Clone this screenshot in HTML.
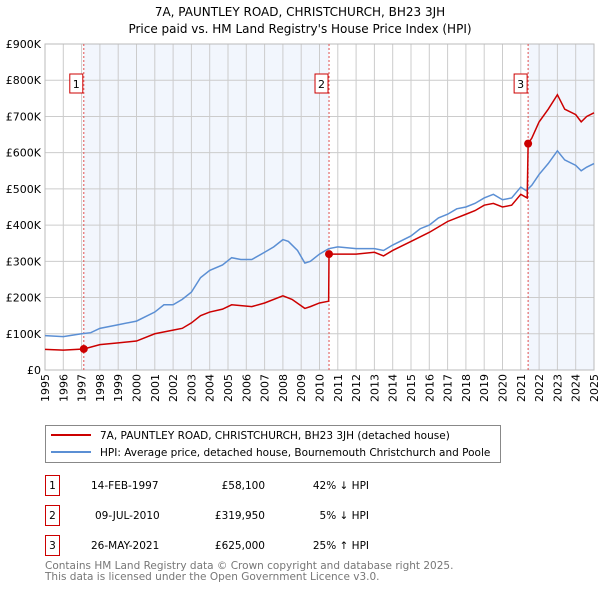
<!DOCTYPE html>
<html><head><meta charset="utf-8"><style>
body{margin:0;background:#fff;font-family:"Liberation Sans","DejaVu Sans",sans-serif;}
svg text{font-family:"DejaVu Sans","Liberation Sans",sans-serif;}
</style></head><body>
<svg id="c" width="600" height="590" viewBox="0 0 600 590" xmlns="http://www.w3.org/2000/svg">
<text x="300" y="16" text-anchor="middle" font-size="12">7A, PAUNTLEY ROAD, CHRISTCHURCH, BH23 3JH</text>
<text x="300" y="33" text-anchor="middle" font-size="12">Price paid vs. HM Land Registry's House Price Index (HPI)</text>
<g id="plot"></g>
<g>
<rect x="45.5" y="425.5" width="455" height="37" fill="#fff" stroke="#888"/>
<line x1="51" y1="435" x2="91" y2="435" stroke="#cc0000" stroke-width="2"/>
<text x="100" y="439" font-size="10.5">7A, PAUNTLEY ROAD, CHRISTCHURCH, BH23 3JH (detached house)</text>
<line x1="51" y1="452" x2="91" y2="452" stroke="#5b8fd4" stroke-width="2"/>
<text x="100" y="456" font-size="10.5">HPI: Average price, detached house, Bournemouth Christchurch and Poole</text>
</g>
<g font-size="10.5">
<rect x="45.5" y="475.5" width="14" height="20" fill="none" stroke="#cc0000"/><text x="52.5" y="489" text-anchor="middle">1</text>
<text x="91" y="489">14-FEB-1997</text><text x="265" y="489" text-anchor="end">£58,100</text><text x="369" y="489" text-anchor="end">42% ↓ HPI</text>
<rect x="45.5" y="505.5" width="14" height="20" fill="none" stroke="#cc0000"/><text x="52.5" y="519" text-anchor="middle">2</text>
<text x="95" y="519">09-JUL-2010</text><text x="265" y="519" text-anchor="end">£319,950</text><text x="369" y="519" text-anchor="end">5% ↓ HPI</text>
<rect x="45.5" y="535.5" width="14" height="20" fill="none" stroke="#cc0000"/><text x="52.5" y="549" text-anchor="middle">3</text>
<text x="91" y="549">26-MAY-2021</text><text x="265" y="549" text-anchor="end">£625,000</text><text x="369" y="549" text-anchor="end">25% ↑ HPI</text>
</g>
<text x="45" y="569" font-size="10.5" fill="#777">Contains HM Land Registry data © Crown copyright and database right 2025.</text>
<text x="45" y="580" font-size="10.5" fill="#777">This data is licensed under the Open Government Licence v3.0.</text>
</svg>
<script>
const yTickValues=[0,100,200,300,400,500,600,700,800,900];
const yTickLabels=["£0","£100K","£200K","£300K","£400K","£500K","£600K","£700K","£800K","£900K"];
const xYears=[1995,1996,1997,1998,1999,2000,2001,2002,2003,2004,2005,2006,2007,2008,2009,2010,2011,2012,2013,2014,2015,2016,2017,2018,2019,2020,2021,2022,2023,2024,2025];
const hpiT=[1995,1996,1997,1997.5,1998,1999,2000,2001,2001.5,2002,2002.5,2003,2003.5,2004,2004.7,2005.2,2005.7,2006.3,2007,2007.5,2008,2008.3,2008.8,2009.2,2009.5,2010,2010.5,2011,2012,2013,2013.5,2014,2015,2015.5,2016,2016.5,2017,2017.5,2018,2018.5,2019,2019.5,2020,2020.5,2021,2021.3,2021.6,2022,2022.5,2023,2023.4,2024,2024.3,2024.6,2025];
const hpiV=[95,92,100,103,115,125,135,160,180,180,195,215,255,275,290,310,305,305,325,340,360,355,330,295,300,320,335,340,335,335,330,345,370,390,400,420,430,445,450,460,475,485,470,475,505,495,510,540,570,605,580,565,550,560,570];
const ppT=[1995,1996,1997.12,1998,1999,2000,2001,2002,2002.5,2003,2003.5,2004,2004.7,2005.2,2006.3,2007,2008,2008.5,2009.2,2009.5,2010,2010.5,2010.52,2011,2012,2013,2013.5,2014,2015,2016,2017,2018,2018.5,2019,2019.5,2020,2020.5,2021,2021.35,2021.4,2021.6,2022,2022.5,2023,2023.4,2024,2024.3,2024.6,2025];
const ppV=[57,55,58.1,70,75,80,100,110,115,130,150,160,168,180,175,185,205,195,170,175,185,190,319.95,320,320,325,315,330,355,380,410,430,440,455,460,450,455,485,475,625,640,685,720,760,720,705,685,700,710];
const saleT=[1997.12,2010.52,2021.4];
const saleV=[58.1,319.95,625];
const saleLabels=["1","2","3"];
const shadeRanges=[[1997.12,2010.52],[2021.4,2025]];
const X0=45,X1=594,Y0=370,Y1=44;
const xs=t=>X0+(t-1995)/30*(X1-X0);
const ys=v=>Y0-v/900*(Y0-Y1);
const NS="http://www.w3.org/2000/svg";
const g=document.getElementById('plot');
function mk(tag,attrs,parent){const e=document.createElementNS(NS,tag);for(const k in attrs)e.setAttribute(k,attrs[k]);(parent||g).appendChild(e);return e;}
shadeRanges.forEach(r=>{const e=mk('rect',{x:xs(r[0]),y:Y1,width:xs(r[1])-xs(r[0]),height:Y0-Y1,fill:'#f2f6fd'});

});
yTickValues.forEach((v,i)=>{const l=mk('line',{x1:X0,x2:X1,y1:ys(v),y2:ys(v),stroke:'#ccc'});


const t=mk('text',{x:X0-4,y:ys(v)+4,'text-anchor':'end','font-size':'11'});t.textContent=yTickLabels[i];

});
xYears.forEach(y=>{const l=mk('line',{x1:xs(y),x2:xs(y),y1:Y1,y2:Y0,stroke:'#ccc'});


const t=mk('text',{x:0,y:0,'text-anchor':'end','font-size':'11',transform:'translate('+(xs(y)+4)+',374) rotate(-90)'});t.textContent=y;

});
mk('rect',{x:X0,y:Y1,width:X1-X0,height:Y0-Y1,fill:'none',stroke:'#bbb'});
saleT.forEach((t,i)=>{const l=mk('line',{x1:xs(t),x2:xs(t),y1:Y1,y2:Y0,stroke:'#e05050','stroke-dasharray':'2,2'});


const bx=xs(t)-8;const r=mk('rect',{x:bx-6,y:74,width:13,height:19,fill:'#fff',stroke:'#cc0000'});


const tx=mk('text',{x:bx+0.5,y:88,'text-anchor':'middle','font-size':'11'});tx.textContent=saleLabels[i];

});
const hp=mk('polyline',{points:hpiT.map((t,i)=>xs(t)+','+ys(hpiV[i])).join(' '),fill:'none',stroke:'#5b8fd4','stroke-width':1.5});


const pp=mk('polyline',{points:ppT.map((t,i)=>xs(t)+','+ys(ppV[i])).join(' '),fill:'none',stroke:'#cc0000','stroke-width':1.5});


saleT.forEach((t,i)=>{const c=mk('circle',{cx:xs(t),cy:ys(saleV[i]),r:4,fill:'#cc0000'});

});
</script>
</body></html>
